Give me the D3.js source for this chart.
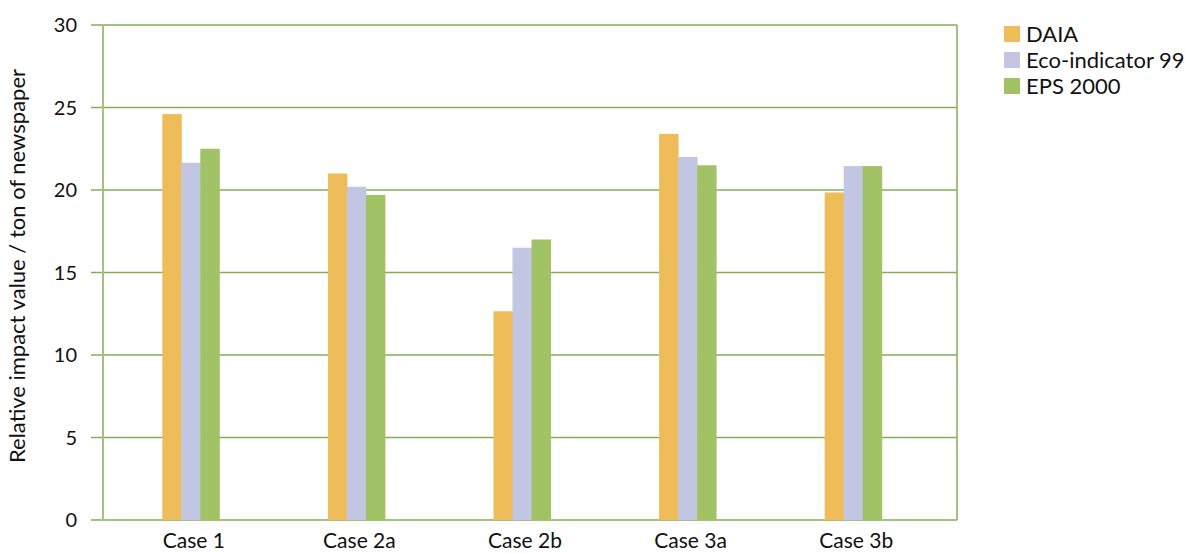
<!DOCTYPE html>
<html>
<head>
<meta charset="utf-8">
<script src="https://cdn.jsdelivr.net/npm/d3@7"></script>
<style>
  body { margin: 0; background: #fff; }
  text { font-family: Lato, "Open Sans", sans-serif; fill: #111; }
</style>
</head>
<body>
<div id="chart"></div>
<script>
// datos
const categories = ["Case 1", "Case 2a", "Case 2b", "Case 3a", "Case 3b"];
const seriesNames = ["DAIA", "Eco-indicator 99", "EPS 2000"];
const daia = [24.6, 21.0, 12.65, 23.4, 19.85];
const eco99 = [21.65, 20.2, 16.5, 22.0, 21.45];
const eps2000 = [22.5, 19.7, 17.0, 21.5, 21.45];
const yTicks = [0, 5, 10, 15, 20, 25, 30];

const colors = ["#efbc5a", "#c2c6e2", "#a2c266"];
const seriesValues = [daia, eco99, eps2000];

const W = 1185, H = 554;
const plot = { left: 103, right: 957, top: 25, bottom: 520 };

const svg = d3.select("#chart").append("svg")
  .attr("width", W)
  .attr("height", H);

// escalas
const y = d3.scaleLinear().domain([0, 30]).range([plot.bottom, plot.top]);
const x = d3.scaleBand().domain(categories).range([108, 936]).padding(0);
const xSub = d3.scaleBand().domain(seriesNames).range([0, 57]).padding(0);

// lineas de la rejilla
svg.append("g")
  .selectAll("line")
  .data(yTicks)
  .join("line")
  .attr("x1", 91)
  .attr("x2", plot.right)
  .attr("y1", d => y(d))
  .attr("y2", d => y(d))
  .attr("stroke", "#86ae55")
  .attr("stroke-width", 1.5);

// borde derecho y eje izquierdo
svg.append("line")
  .attr("x1", plot.right).attr("x2", plot.right)
  .attr("y1", plot.top).attr("y2", plot.bottom)
  .attr("stroke", "#86ae55").attr("stroke-width", 1.5);
svg.append("line")
  .attr("x1", plot.left).attr("x2", plot.left)
  .attr("y1", plot.top).attr("y2", plot.bottom)
  .attr("stroke", "#a3c184").attr("stroke-width", 2);

// etiquetas del eje Y
svg.append("g")
  .selectAll("text")
  .data(yTicks)
  .join("text")
  .attr("x", 77)
  .attr("y", d => y(d))
  .attr("dy", "0.35em")
  .attr("text-anchor", "end")
  .style("font-size", "20px")
  .text(d => d);

// etiquetas del eje X
svg.append("g")
  .selectAll("text")
  .data(categories)
  .join("text")
  .attr("x", d => x(d) + x.bandwidth() / 2 + 3)
  .attr("y", 548)
  .attr("text-anchor", "middle")
  .style("font-size", "21px")
  .text(d => d);

// titulo del eje Y
svg.append("text")
  .attr("transform", "translate(25,266) rotate(-90)")
  .attr("text-anchor", "middle")
  .style("font-size", "22px")
  .text("Relative impact value / ton of newspaper");

// barras
const groups = svg.append("g")
  .selectAll("g")
  .data(categories)
  .join("g")
  .attr("transform", d => `translate(${x(d) + x.bandwidth() / 2 - 28.5},0)`);

groups.selectAll("rect")
  .data((d, i) => seriesNames.map((s, j) => ({ s, j, v: seriesValues[j][i] })))
  .join("rect")
  .attr("x", d => xSub(d.s))
  .attr("y", d => y(d.v))
  .attr("width", xSub.bandwidth() + 0.5)
  .attr("height", d => y(0) - y(d.v))
  .attr("fill", d => colors[d.j]);

// leyenda
const legend = svg.append("g")
  .selectAll("g")
  .data(seriesNames)
  .join("g")
  .attr("transform", (d, i) => `translate(1004,${26 + i * 26})`);

legend.append("rect")
  .attr("width", 16)
  .attr("height", 16)
  .attr("fill", (d, i) => colors[i]);

legend.append("text")
  .attr("x", 22)
  .attr("y", 8)
  .attr("dy", "0.35em")
  .style("font-size", "22px")
  .text(d => d);
</script>
</body>
</html>
